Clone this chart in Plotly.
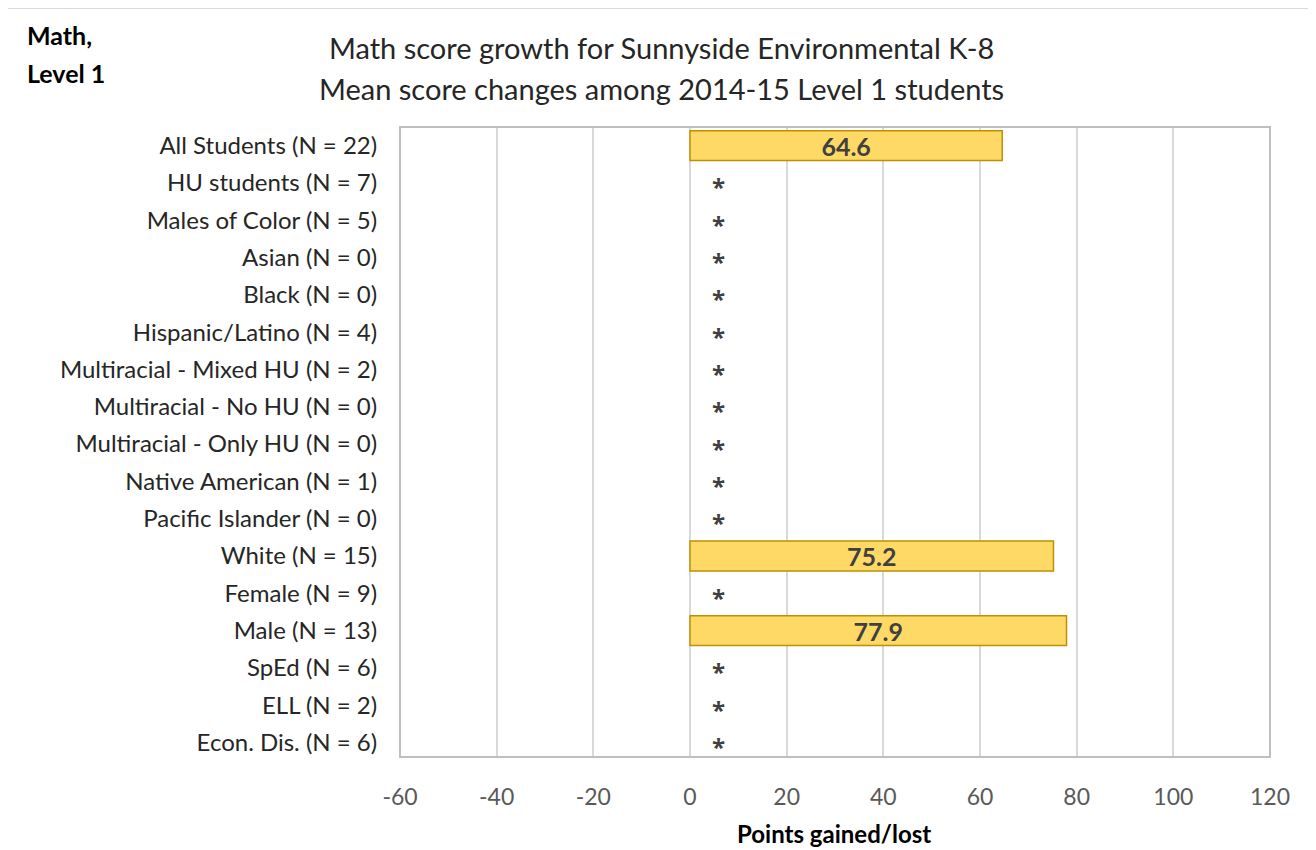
import plotly.graph_objects as go

categories = [
    "All Students (N = 22)", "HU students (N = 7)", "Males of Color (N = 5)",
    "Asian (N = 0)", "Black (N = 0)", "Hispanic/Latino (N = 4)",
    "Multiracial - Mixed HU (N = 2)", "Multiracial - No HU (N = 0)",
    "Multiracial - Only HU (N = 0)", "Native American (N = 1)",
    "Pacific Islander (N = 0)", "White (N = 15)", "Female (N = 9)",
    "Male (N = 13)", "SpEd (N = 6)", "ELL (N = 2)", "Econ. Dis. (N = 6)",
]
values = [64.6, None, None, None, None, None, None, None, None, None, None,
          75.2, None, 77.9, None, None, None]
suppressed_marker = "*"
suppressed_x = 5.8
x_ticks = [-60, -40, -20, 0, 20, 40, 60, 80, 100, 120]
title_lines = ["Math score growth for Sunnyside Environmental K-8",
               "Mean score changes among 2014-15 Level 1 students"]
corner_lines = ["Math,", "Level 1"]
x_title = "Points gained/lost"

FONT = "Lato"
OFF = 8  # default page margin of the html body

bar_cats = [c for c, v in zip(categories, values) if v is not None]
bar_vals = [v for v in values if v is not None]
star_cats = [c for c, v in zip(categories, values) if v is None]

PL, PR, PT, PB = 400, 1270, 127, 757  # target plot area in the screenshot
L = PL - OFF
T = PT - OFF
R = 1316 - PR + OFF
B = 850 - PB + OFF
PW = PR - PL
PH = PB - PT


def px(x):
    return (x - PL) / PW


def py(y):
    return (PB - y) / PH


fig = go.Figure()
fig.add_trace(go.Bar(
    y=bar_cats, x=bar_vals, orientation="h",
    marker=dict(color="#FFD966", line=dict(color="#BF9000", width=1.5)),
    text=[f"{v:.1f}" for v in bar_vals], textposition="inside",
    insidetextanchor="middle", constraintext="none",
    textfont=dict(family=FONT, size=25, color="#404040", weight="bold"),
    hoverinfo="skip",
))

annotations = []
for c in star_cats:
    annotations.append(dict(
        x=suppressed_x, y=c, xref="x", yref="y", text=suppressed_marker,
        showarrow=False, yshift=-4,
        font=dict(family="Open Sans", size=24, color="#404040", weight="bold")))

for line, yc in zip(title_lines, [47, 88]):
    annotations.append(dict(
        text=line, xref="paper", yref="paper", x=px(661), y=py(yc),
        xanchor="center", yanchor="middle", showarrow=False,
        font=dict(family=FONT, size=29, color="#262626")))

for line, yc in zip(corner_lines, [35, 73]):
    annotations.append(dict(
        text=f"<b>{line}</b>", xref="paper", yref="paper", x=px(25), y=py(yc),
        xanchor="left", yanchor="middle", showarrow=False,
        font=dict(family=FONT, size=25, color="#000000")))

annotations.append(dict(
    text=f"<b>{x_title}</b>", xref="paper", yref="paper", x=px(834), y=py(833),
    xanchor="center", yanchor="middle", showarrow=False,
    font=dict(family=FONT, size=24, color="#000000")))

fig.update_layout(
    width=1316, height=850,
    margin=dict(l=L, r=R, t=T, b=B),
    paper_bgcolor="white", plot_bgcolor="white",
    showlegend=False, bargap=0.2,
    font=dict(family=FONT, color="#404040"),
    xaxis=dict(
        range=[-60, 120], tickvals=x_ticks, ticktext=[str(t) for t in x_ticks],
        showgrid=True, gridcolor="#D9D9D9", gridwidth=1.5,
        zeroline=False, showline=False,
        tickfont=dict(family=FONT, size=23, color="#595959"),
        ticks="outside", ticklen=19, tickcolor="white",
    ),
    yaxis=dict(
        categoryorder="array", categoryarray=categories,
        autorange="reversed", showgrid=False, zeroline=False,
        tickfont=dict(family=FONT, size=24, color="#262626"),
        ticks="outside", ticklen=17, tickcolor="white",
    ),
    shapes=[
        dict(type="rect", xref="paper", yref="paper", x0=0, x1=1, y0=0, y1=1,
             line=dict(color="#BFBFBF", width=2), layer="above"),
        dict(type="line", xref="x", yref="paper", x0=0, x1=0, y0=0, y1=1,
             line=dict(color="#D9D9D9", width=1.5), layer="below"),
        dict(type="rect", xref="paper", yref="paper",
             x0=px(5), x1=px(1314), y0=py(870), y1=py(8),
             line=dict(color="#D9D9D9", width=2)),
    ],
    annotations=annotations,
)

fig.write_html("out.html")
